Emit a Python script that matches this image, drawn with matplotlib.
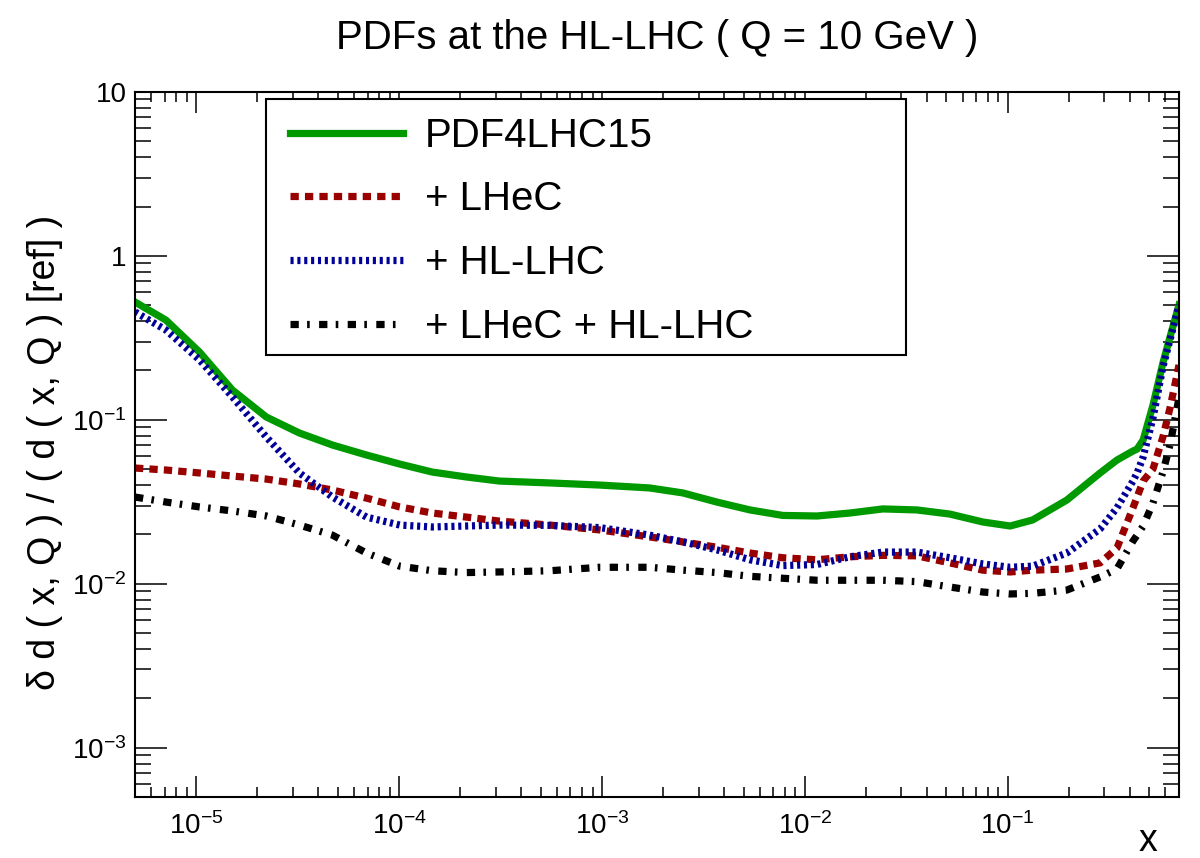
"""
PDF uncertainty ratio for the d quark at Q = 10 GeV (ROOT-style figure).
Writes out.png.
"""

import matplotlib
matplotlib.use("Agg")
import matplotlib.pyplot as plt
from matplotlib.patches import Rectangle
from matplotlib.ticker import LogLocator, NullFormatter

plt.rcParams["font.family"] = ["Liberation Sans", "DejaVu Sans"]
plt.rcParams["mathtext.fontset"] = "custom"
plt.rcParams["mathtext.rm"] = "Liberation Sans"
plt.rcParams["mathtext.default"] = "regular"

# ---------------------------------------------------------------------------
# Data
# ---------------------------------------------------------------------------
x = [5.0e-6, 7.1e-6, 1.04e-5, 1.51e-5, 2.22e-5, 3.23e-5, 4.70e-5, 6.92e-5,
     1.01e-4, 1.46e-4, 2.15e-4, 3.13e-4, 5.54e-4, 9.75e-4, 1.72e-3, 2.51e-3,
     3.69e-3, 5.37e-3, 7.80e-3, 1.15e-2, 1.67e-2, 2.43e-2, 3.57e-2, 5.20e-2,
     7.56e-2, 0.103, 0.133, 0.196, 0.286, 0.346, 0.415, 0.435, 0.466, 0.521,
     0.583, 0.632, 0.70]

pdf4lhc15 = [0.523, 0.406, 0.259, 0.152, 0.104, 0.0831, 0.0702, 0.0610,
             0.0537, 0.0480, 0.0448, 0.0423, 0.0412, 0.0400, 0.0384, 0.0358,
             0.0315, 0.0282, 0.0261, 0.0259, 0.0270, 0.0286, 0.0282, 0.0266,
             0.0238, 0.0225, 0.0245, 0.0324, 0.0474, 0.0568, 0.0645, 0.0663,
             0.0753, 0.123, 0.222, 0.320, 0.502]

lhec = [0.0508, 0.0494, 0.0474, 0.0454, 0.0435, 0.0406, 0.0373, 0.0333,
        0.0294, 0.0270, 0.0255, 0.0241, 0.0228, 0.0213, 0.0193, 0.0180,
        0.0167, 0.0154, 0.0144, 0.0140, 0.0146, 0.0149, 0.0148, 0.0134,
        0.0121, 0.0118, 0.0121, 0.0123, 0.0134, 0.0165, 0.0290, 0.0338,
        0.0423, 0.0501, 0.0785, 0.118, 0.216]

hllhc = [0.455, 0.353, 0.232, 0.138, 0.0785, 0.0474, 0.0338, 0.0255,
         0.0228, 0.0222, 0.0225, 0.0228, 0.0227, 0.0220, 0.0198, 0.0180,
         0.0161, 0.0140, 0.0129, 0.0131, 0.0146, 0.0156, 0.0156, 0.0144,
         0.0132, 0.0126, 0.0128, 0.0154, 0.0216, 0.0290, 0.0423, 0.0474,
         0.0593, 0.1026, 0.210, 0.307, 0.502]

lhec_hllhc = [0.0338, 0.0315, 0.0294, 0.0278, 0.0259, 0.0228, 0.0198, 0.0154,
              0.0128, 0.0120, 0.0117, 0.0118, 0.0120, 0.0126, 0.0126, 0.0121,
              0.0117, 0.0111, 0.0108, 0.0105, 0.0105, 0.0105, 0.0103, 0.00955,
              0.00890, 0.00866, 0.00874, 0.00915, 0.0110, 0.0123, 0.0182,
              0.0198, 0.0225, 0.0311, 0.0480, 0.0702, 0.136]

x_ticks = [1e-5, 1e-4, 1e-3, 1e-2, 1e-1]
x_ticklabels = [r"$10^{-5}$", r"$10^{-4}$", r"$10^{-3}$", r"$10^{-2}$", r"$10^{-1}$"]
y_ticks = [1e-3, 1e-2, 1e-1, 1, 10]
y_ticklabels = [r"$10^{-3}$", r"$10^{-2}$", r"$10^{-1}$", "1", "10"]

GREEN = "#009900"
RED = "#990000"
BLUE = "#000099"
LW = 5.2

# ---------------------------------------------------------------------------
# Figure
# ---------------------------------------------------------------------------
fig = plt.figure(figsize=(12, 8.58), dpi=100)
ax = fig.add_axes([0.1125, 0.0711, 0.87, 0.8217])

ax.plot(x, pdf4lhc15, color=GREEN, lw=LW, solid_joinstyle="round",
        label="PDF4LHC15")
ax.plot(x, lhec, color=RED, lw=LW, ls=(0, (1.15, 0.85)), label="+ LHeC")
ax.plot(x, hllhc, color=BLUE, lw=LW, ls=(0, (0.43, 0.52)), label="+ HL-LHC")
ax.plot(x, lhec_hllhc, color="black", lw=LW, ls=(0, (1.15, 1.15, 0.36, 1.3)),
        label="+ LHeC + HL-LHC")

ax.set_xscale("log")
ax.set_yscale("log")
ax.set_xlim(5e-6, 0.70)
ax.set_ylim(5e-4, 10)

ax.set_xticks(x_ticks)
ax.set_xticklabels(x_ticklabels)
ax.set_yticks(y_ticks)
ax.set_yticklabels(y_ticklabels)
ax.xaxis.set_minor_locator(LogLocator(base=10, subs=range(2, 10), numticks=20))
ax.yaxis.set_minor_locator(LogLocator(base=10, subs=range(2, 10), numticks=20))
ax.xaxis.set_minor_formatter(NullFormatter())
ax.yaxis.set_minor_formatter(NullFormatter())

ax.tick_params(which="both", direction="in", top=True, right=True,
               width=1.1, labelsize=20)
ax.tick_params(axis="y", which="major", length=23, pad=6)
ax.tick_params(axis="y", which="minor", length=11.5)
ax.tick_params(axis="x", which="major", length=15, pad=11)
ax.tick_params(axis="x", which="minor", length=7.5)
for sp in ax.spines.values():
    sp.set_linewidth(1.5)

# Legend: fixed ROOT-style box plus frameless entries
ax.add_patch(Rectangle((0.1255, 0.627), 0.613, 0.363, transform=ax.transAxes,
                       facecolor="white", edgecolor="black", lw=1.5, zorder=4))
leg = ax.legend(loc="upper left", bbox_to_anchor=(0.1485, 0.965),
                frameon=False, borderpad=0, borderaxespad=0,
                handlelength=2.8, handletextpad=0.55, labelspacing=0.64,
                fontsize=29)
leg.set_zorder(5)

fig.text(657 / 1200, 1 - 38 / 858, "PDFs at the HL-LHC ( Q = 10 GeV )",
         ha="center", va="center", fontsize=29)
fig.text(45 / 1200, 0.473, "δ d ( x, Q ) / ( d ( x, Q ) [ref] )",
         rotation=90, ha="center", va="center", fontsize=27)
fig.text(1148 / 1200, 1 - 851 / 858, "x", ha="center", va="baseline",
         fontsize=27)

fig.savefig("out.png", dpi=100)
